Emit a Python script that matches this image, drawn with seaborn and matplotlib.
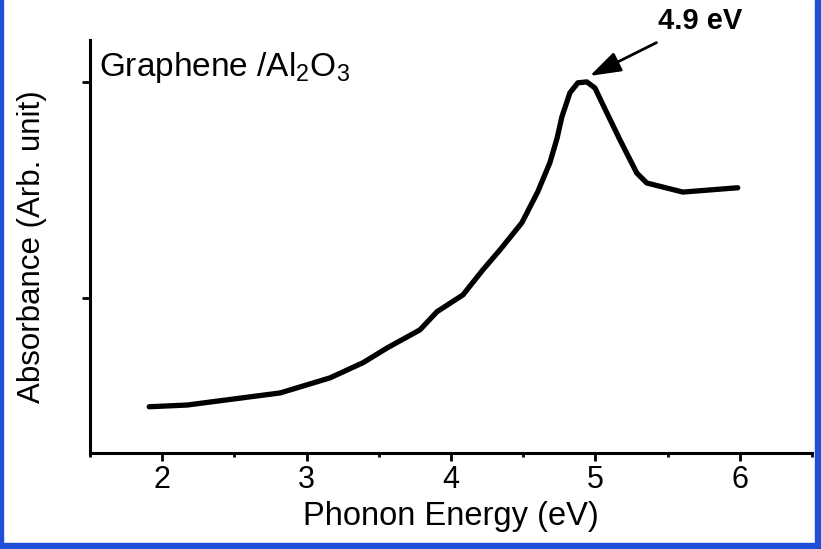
import numpy as np
import pandas as pd
import matplotlib
matplotlib.use("Agg")
import matplotlib.pyplot as plt
from matplotlib.patches import Rectangle
from matplotlib.ticker import MultipleLocator, NullFormatter
import seaborn as sns

# Absorbance spectrum of graphene on Al2O3
energy_ev = [1.910, 2.173, 2.817, 3.163, 3.391, 3.557, 3.785, 3.903, 4.083,
             4.221, 4.339, 4.491, 4.600, 4.685, 4.735, 4.768, 4.824, 4.879,
             4.941, 4.997, 5.080, 5.170, 5.287, 5.356, 5.606, 5.986]
absorbance = [0.248, 0.252, 0.280, 0.315, 0.350, 0.384, 0.426, 0.468, 0.507,
              0.565, 0.611, 0.674, 0.745, 0.813, 0.870, 0.919, 0.975, 0.998,
              1.000, 0.986, 0.928, 0.866, 0.789, 0.766, 0.745, 0.755]
x_ticks = [2, 3, 4, 5, 6]
peak_label = "4.9 eV"
peak_point = (4.962, 1.014)

df = pd.DataFrame({"energy": energy_ev, "absorbance": absorbance})

sns.set_style("ticks")
plt.rcParams["font.family"] = ["Liberation Sans", "DejaVu Sans"]
plt.rcParams["text.color"] = "black"
plt.rcParams["axes.labelcolor"] = "black"
plt.rcParams["xtick.color"] = "black"
plt.rcParams["ytick.color"] = "black"
plt.rcParams["mathtext.fontset"] = "custom"
plt.rcParams["mathtext.rm"] = "Liberation Sans"

fig = plt.figure(figsize=(8.21, 5.49), dpi=100)
ax = fig.add_axes([0.1096, 0.1749, 0.8794, 0.7522])

sns.lineplot(data=df, x="energy", y="absorbance", ax=ax, color="black",
             linewidth=3.8, solid_joinstyle="round", solid_capstyle="round")

ax.set_xlim(1.5, 6.5)
ax.set_ylim(0.141, 1.097)
ax.set_xticks(x_ticks)
ax.xaxis.set_minor_locator(MultipleLocator(0.5))
ax.set_yticks([0.5, 1.0])
ax.yaxis.set_major_formatter(NullFormatter())

for side in ("top", "right"):
    ax.spines[side].set_visible(False)
for side in ("left", "bottom"):
    ax.spines[side].set_linewidth(2.2)
    ax.spines[side].set_color("black")

ax.tick_params(axis="both", which="major", direction="out", length=6,
               width=2.0, labelsize=22, pad=3)
ax.tick_params(axis="x", which="minor", direction="out", length=3, width=2.0)
ax.set_xlabel("Phonon Energy (eV)", fontsize=23.5, labelpad=4)
ax.set_ylabel("Absorbance (Arb. unit)", fontsize=22.5, labelpad=22)

ax.text(0.012, 0.975, r"Graphene /Al$\mathrm{_2}$O$\mathrm{_3}$",
        transform=ax.transAxes, fontsize=24, ha="left", va="top")

ax.annotate(peak_label, xy=peak_point, xytext=(5.723, 1.141),
            textcoords="data", fontsize=21, fontweight="bold",
            ha="center", va="center", annotation_clip=False,
            arrowprops=dict(arrowstyle="-|>,head_length=0.9,head_width=0.3",
                            color="black", lw=2.0, shrinkA=7, shrinkB=0))

# thin blue frame around the slide
for rect in [(0, 0, 0.004, 1), (0.993, 0, 0.007, 1), (0, 0, 1, 0.011)]:
    fig.patches.append(Rectangle(rect[:2], rect[2], rect[3],
                                 transform=fig.transFigure, color="#1f4fd8",
                                 zorder=10))

fig.savefig("out.png", dpi=100, facecolor="white")
